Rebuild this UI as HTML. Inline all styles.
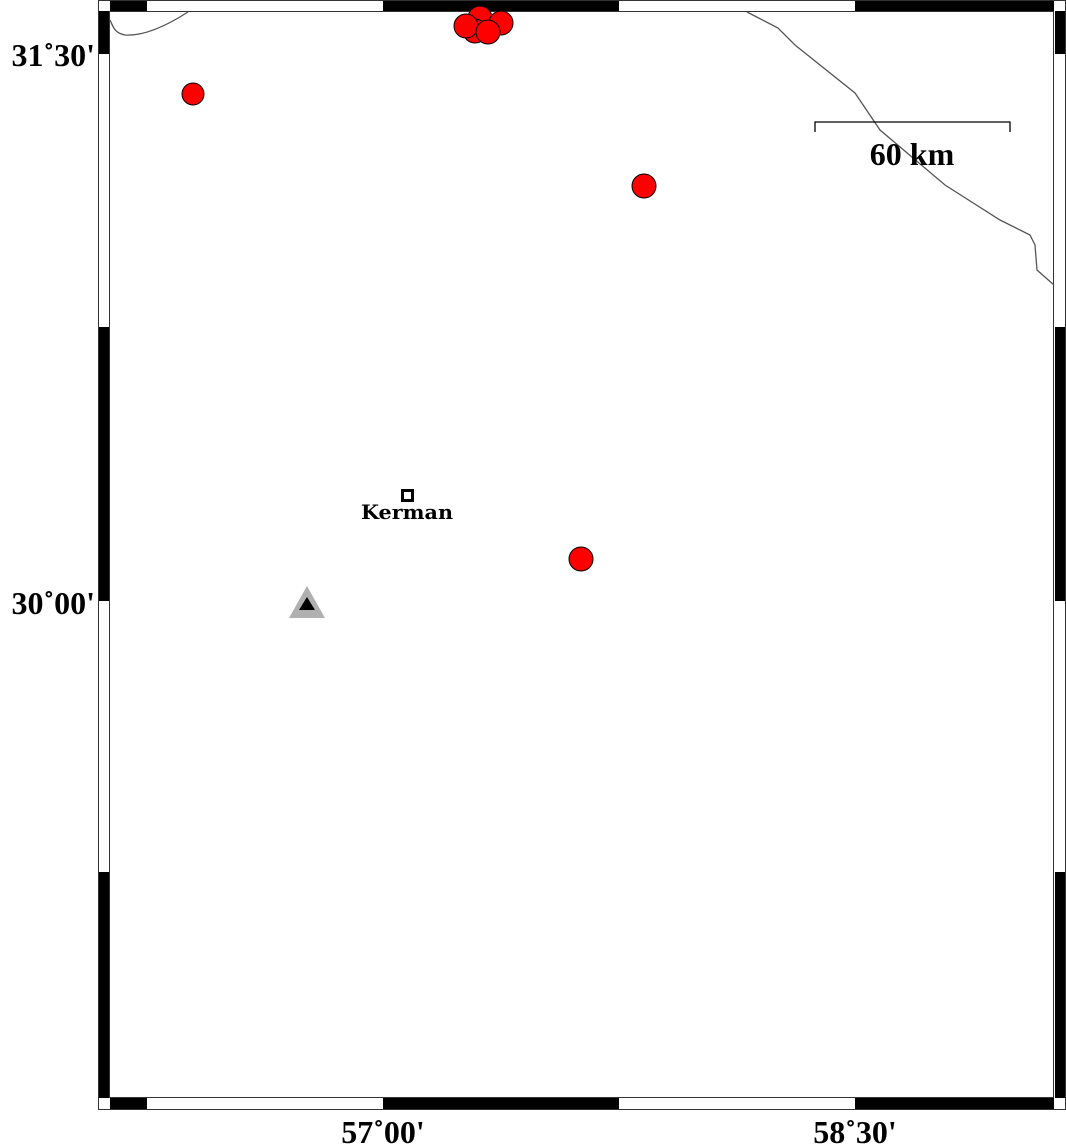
<!DOCTYPE html>
<html><head><meta charset="utf-8"><style>
body{margin:0;background:#fff}
svg{display:block}
text{font-family:"Liberation Serif",serif;font-weight:bold}
</style></head><body>
<svg width="1066" height="1147" viewBox="0 0 1066 1147" xmlns="http://www.w3.org/2000/svg">
<rect x="0" y="0" width="1066" height="1147" fill="#fff"/>
<rect x="98.5" y="0.5" width="967" height="1109" fill="#fff" stroke="#333" stroke-width="1"/>
<rect x="110" y="1" width="37" height="10" fill="#000"/>
<rect x="383" y="1" width="236" height="10" fill="#000"/>
<rect x="855" y="1" width="199" height="10" fill="#000"/>
<rect x="110" y="1098" width="37" height="11" fill="#000"/>
<rect x="383" y="1098" width="236" height="11" fill="#000"/>
<rect x="855" y="1098" width="199" height="11" fill="#000"/>
<rect x="99" y="11" width="10" height="43" fill="#000"/>
<rect x="99" y="327" width="10" height="274" fill="#000"/>
<rect x="99" y="872" width="10" height="226" fill="#000"/>
<rect x="1055" y="11" width="10" height="43" fill="#000"/>
<rect x="1055" y="327" width="10" height="274" fill="#000"/>
<rect x="1055" y="872" width="10" height="226" fill="#000"/>
<rect x="109.5" y="11.5" width="944" height="1086" fill="none" stroke="#333" stroke-width="1"/>
<g fill="none" stroke="#555" stroke-width="1.3">
<path d="M110,20 C113,26 114,33 125,35 C140,36 160,30 188,12"/>
<path d="M747,12 L778,28 L795,45 L855,93 L880,130 L945,185 L1000,220 L1030,235 L1035,245 L1037,270 L1054,285"/>
</g>
<path d="M815,132 V122 H1010 V132" fill="none" stroke="#000" stroke-width="1.3"/>
<text x="912" y="165" font-size="32" text-anchor="middle">60 km</text>
<g fill="#f00" stroke="#000" stroke-width="1">
<circle cx="193" cy="94" r="11"/>
<circle cx="644" cy="186" r="12"/>
<circle cx="581" cy="559" r="12"/>
<circle cx="480" cy="18" r="12"/>
<circle cx="501" cy="23" r="12"/>
<circle cx="475" cy="31" r="12"/>
<circle cx="466" cy="26" r="12"/>
<circle cx="488" cy="32" r="12"/>
</g>
<rect x="402.5" y="490.5" width="10" height="10" fill="#fff" stroke="#000" stroke-width="3"/>
<text x="407" y="519" font-size="20" text-anchor="middle" style="font-family:'DejaVu Serif',serif" textLength="92" lengthAdjust="spacingAndGlyphs">Kerman</text>
<polygon points="307,586 289,618 325,618" fill="#b0b0b0"/>
<polygon points="307,597 299,610 315,610" fill="#000"/>
<text x="95" y="66" font-size="32" text-anchor="end">31˚30'</text>
<text x="95" y="614" font-size="32" text-anchor="end">30˚00'</text>
<text x="383" y="1143" font-size="32" text-anchor="middle">57˚00'</text>
<text x="855" y="1143" font-size="32" text-anchor="middle">58˚30'</text>
</svg>
</body></html>
